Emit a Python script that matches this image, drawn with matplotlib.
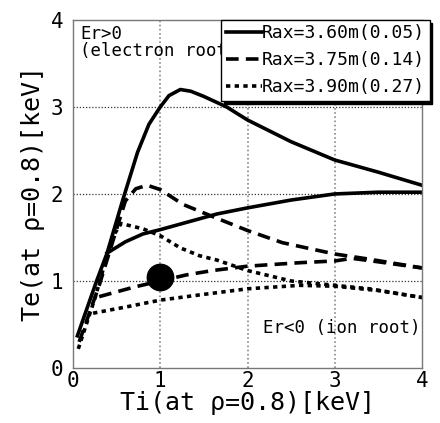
import numpy as np
import matplotlib
matplotlib.use("Agg")
import matplotlib.pyplot as plt

plt.rcParams['font.family'] = ['DejaVu Sans Mono']

# Rax=3.60m, electron root (Er>0) and ion root (Er<0) branches
ti_360_e = [0.05, 0.27, 0.39, 0.57, 0.74, 0.87, 1.0, 1.1, 1.23, 1.35, 1.5, 1.76, 2.0, 2.5, 3.0, 3.5, 4.0]
te_360_e = [0.37, 1.0, 1.32, 1.93, 2.48, 2.8, 3.0, 3.13, 3.2, 3.18, 3.12, 3.0, 2.85, 2.6, 2.39, 2.25, 2.1]
ti_360_i = [0.39, 0.6, 0.8, 1.0, 1.65, 2.0, 2.5, 3.0, 3.5, 4.0]
te_360_i = [1.32, 1.45, 1.54, 1.59, 1.77, 1.84, 1.93, 2.0, 2.02, 2.02]

# Rax=3.75m
ti_375_e = [0.07, 0.3, 0.5, 0.6, 0.72, 0.85, 1.0, 1.26, 1.6, 2.0, 2.4, 3.0, 3.4, 4.0]
te_375_e = [0.3, 0.95, 1.6, 1.92, 2.06, 2.1, 2.05, 1.88, 1.74, 1.58, 1.44, 1.31, 1.25, 1.15]
ti_375_i = [0.3, 0.7, 1.0, 1.3, 1.6, 2.0, 2.6, 3.0, 3.2, 3.5, 4.0]
te_375_i = [0.82, 0.93, 1.0, 1.07, 1.12, 1.17, 1.21, 1.23, 1.26, 1.22, 1.15]

# Rax=3.90m
ti_390_e = [0.06, 0.25, 0.45, 0.55, 0.8, 1.0, 1.23, 1.45, 1.65, 2.0, 2.5, 3.0, 3.4, 4.0]
te_390_e = [0.22, 0.8, 1.5, 1.66, 1.6, 1.52, 1.38, 1.29, 1.24, 1.12, 1.0, 0.95, 0.91, 0.81]
ti_390_i = [0.23, 0.6, 1.0, 1.45, 2.0, 2.6, 3.0, 3.5, 4.0]
te_390_i = [0.63, 0.7, 0.78, 0.84, 0.91, 0.95, 0.94, 0.89, 0.81]

# operating point
ti_pt = [1.0]
te_pt = [1.05]

labels = ['Rax=3.60m(0.05)', 'Rax=3.75m(0.14)', 'Rax=3.90m(0.27)']

fig = plt.figure(figsize=(4.4, 4.23), dpi=100)
ax = fig.add_axes([0.166, 0.130, 0.793, 0.823])

lw = 2.6
ax.plot(ti_360_e, te_360_e, 'k-', lw=lw, label=labels[0])
ax.plot(ti_360_i, te_360_i, 'k-', lw=lw)
ax.plot(ti_375_e, te_375_e, 'k', ls=(0, (3.5, 2)), lw=lw, label=labels[1])
ax.plot(ti_375_i, te_375_i, 'k', ls=(0, (3.5, 2)), lw=lw)
ax.plot(ti_390_e, te_390_e, 'k', ls=(0, (1.2, 1.2)), lw=lw, label=labels[2])
ax.plot(ti_390_i, te_390_i, 'k', ls=(0, (1.2, 1.2)), lw=lw)
ax.plot(ti_pt, te_pt, 'ko', ms=19)

ax.set_xlim(0, 4)
ax.set_ylim(0, 4)
ax.set_xticks([0, 1, 2, 3, 4])
ax.set_yticks([0, 1, 2, 3, 4])
ax.tick_params(length=0, labelsize=15)
ax.tick_params(axis='y', pad=7)
ax.tick_params(axis='x', pad=2)
for s in ax.spines.values():
    s.set_color('#777777')
    s.set_linewidth(1)

for v in [1, 2, 3]:
    ax.axvline(v, color='#888888', ls=(0, (1, 1.5)), lw=1.2, zorder=0)
    ax.axhline(v, color='#333333', ls=(0, (1, 1.5)), lw=0.9, zorder=0)

ax.set_xlabel('Ti(at ρ=0.8)[keV]', fontsize=18, labelpad=0)
ax.set_ylabel('Te(at ρ=0.8)[keV]', fontsize=18, labelpad=4)

ax.text(0.02, 0.985, 'Er>0\n(electron root)', transform=ax.transAxes,
        fontsize=12.5, va='top', ha='left', linespacing=0.95)
ax.text(0.995, 0.09, 'Er<0 (ion root)', transform=ax.transAxes,
        fontsize=12.5, va='bottom', ha='right')

leg = ax.legend(loc='upper left', bbox_to_anchor=(0.425, 1.0), fontsize=13,
                handlelength=2.0, handletextpad=0.0, labelspacing=0.5,
                borderaxespad=0, borderpad=0.25, fancybox=False,
                framealpha=1, edgecolor='black',
                shadow={'color': 'black', 'alpha': 1})
leg.get_frame().set_linewidth(1)
leg.set_clip_on(False)

fig.savefig('out.png', dpi=100)
